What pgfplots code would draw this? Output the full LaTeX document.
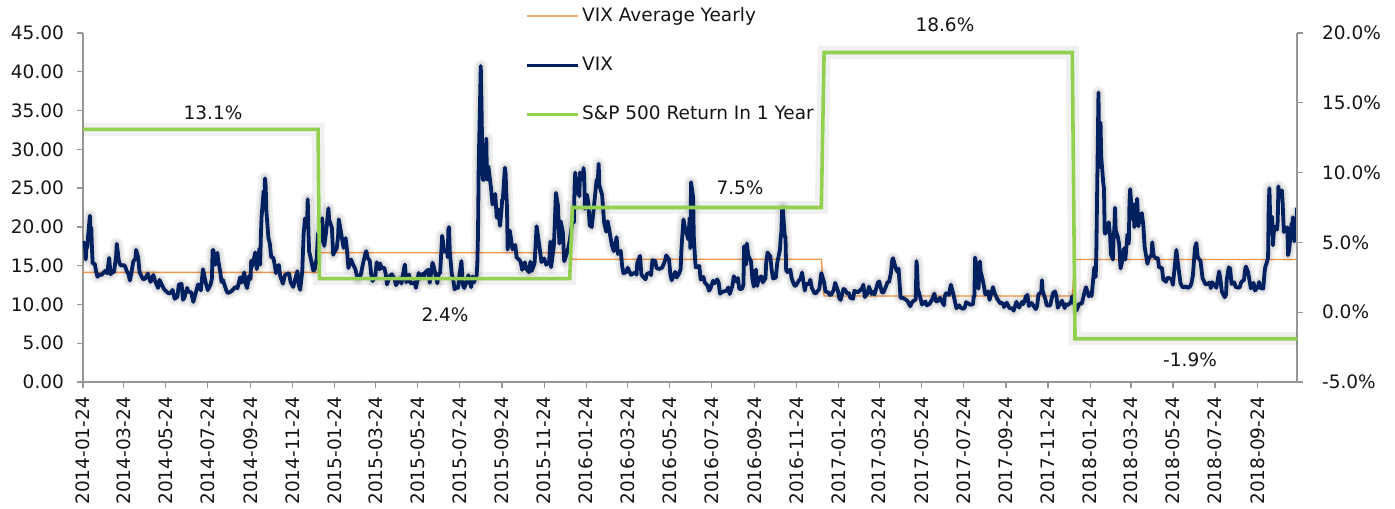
\documentclass[border=0pt]{standalone}
\usepackage{pgfplots}
\pgfplotsset{compat=1.18}
\usepackage{pgfplotstable}
\usepgfplotslibrary{dateplot}
\usepackage{fontspec}
\setmainfont{DejaVu Sans}
\definecolor{vixblue}{RGB}{0,32,96}
\definecolor{spgreen}{RGB}{146,208,80}
\definecolor{avgorange}{RGB}{247,150,70}
\definecolor{axgray}{RGB}{150,150,150}
\definecolor{txt}{RGB}{20,20,20}
\newcommand{\cf}{\fontsize{9.25}{11}\selectfont}

\pgfplotstableread{
date vix
2014-01-24 18.14
2014-01-27 17.42
2014-01-28 15.80
2014-01-29 17.35
2014-01-30 17.29
2014-01-31 18.41
2014-02-03 21.44
2014-02-04 19.11
2014-02-05 19.95
2014-02-06 17.23
2014-02-07 15.29
2014-02-10 15.26
2014-02-12 14.30
2014-02-14 13.57
2014-02-18 13.87
2014-02-20 13.79
2014-02-24 14.23
2014-02-26 14.35
2014-02-28 14.00
2014-03-03 16.00
2014-03-05 13.89
2014-03-07 14.11
2014-03-10 14.20
2014-03-13 16.22
2014-03-14 17.82
2014-03-17 15.64
2014-03-19 15.12
2014-03-21 15.00
2014-03-24 15.09
2014-03-26 14.93
2014-03-28 14.41
2014-03-31 13.88
2014-04-02 13.09
2014-04-04 13.96
2014-04-07 15.57
2014-04-10 15.89
2014-04-11 17.03
2014-04-14 16.11
2014-04-16 14.18
2014-04-21 13.25
2014-04-24 13.32
2014-04-28 13.97
2014-04-30 13.41
2014-05-02 12.91
2014-05-06 13.80
2014-05-09 12.92
2014-05-13 12.13
2014-05-15 13.17
2014-05-19 12.42
2014-05-22 11.91
2014-05-27 11.51
2014-05-30 11.40
2014-06-03 11.87
2014-06-06 10.73
2014-06-10 11.00
2014-06-12 12.56
2014-06-16 12.65
2014-06-18 10.61
2014-06-20 10.85
2014-06-24 12.13
2014-06-26 11.63
2014-06-30 11.57
2014-07-03 10.32
2014-07-08 11.98
2014-07-10 12.59
2014-07-14 11.82
2014-07-17 14.54
2014-07-21 12.81
2014-07-24 11.84
2014-07-28 12.56
2014-07-30 13.33
2014-07-31 16.95
2014-08-01 17.03
2014-08-04 15.12
2014-08-06 16.37
2014-08-07 16.66
2014-08-08 15.77
2014-08-11 14.23
2014-08-13 12.90
2014-08-15 13.15
2014-08-18 12.32
2014-08-20 11.78
2014-08-22 11.47
2014-08-26 11.63
2014-08-28 11.76
2014-09-02 12.25
2014-09-05 12.09
2014-09-09 13.50
2014-09-11 12.80
2014-09-15 14.12
2014-09-17 12.65
2014-09-19 12.11
2014-09-22 13.69
2014-09-24 13.27
2014-09-25 15.64
2014-09-26 14.85
2014-09-30 16.31
2014-10-01 16.71
2014-10-03 14.55
2014-10-07 17.20
2014-10-08 15.11
2014-10-09 18.76
2014-10-10 21.24
2014-10-13 24.64
2014-10-14 22.79
2014-10-15 26.25
2014-10-16 25.20
2014-10-17 21.99
2014-10-20 18.57
2014-10-22 17.87
2014-10-24 16.11
2014-10-27 16.04
2014-10-29 15.15
2014-10-31 14.03
2014-11-04 15.10
2014-11-06 13.67
2014-11-10 12.67
2014-11-13 13.79
2014-11-17 13.99
2014-11-19 13.96
2014-11-21 12.90
2014-11-25 12.25
2014-11-28 13.33
2014-12-01 14.29
2014-12-03 12.47
2014-12-05 11.89
2014-12-08 14.21
2014-12-10 19.00
2014-12-12 21.08
2014-12-15 20.42
2014-12-16 23.57
2014-12-17 19.44
2014-12-18 16.81
2014-12-19 16.49
2014-12-22 15.25
2014-12-24 14.37
2014-12-26 14.50
2014-12-29 15.92
2014-12-31 19.20
2015-01-02 17.79
2015-01-05 19.92
2015-01-06 21.12
2015-01-07 19.31
2015-01-09 17.55
2015-01-12 19.60
2015-01-13 20.56
2015-01-15 22.39
2015-01-16 20.95
2015-01-20 19.89
2015-01-22 16.40
2015-01-23 16.66
2015-01-27 17.22
2015-01-29 18.76
2015-01-30 20.97
2015-02-02 19.43
2015-02-04 18.33
2015-02-06 17.29
2015-02-09 18.55
2015-02-11 16.96
2015-02-13 14.69
2015-02-17 15.80
2015-02-19 15.29
2015-02-23 14.56
2015-02-25 13.84
2015-02-27 13.34
2015-03-03 13.86
2015-03-06 15.20
2015-03-10 16.69
2015-03-11 16.87
2015-03-13 16.00
2015-03-16 15.61
2015-03-18 13.97
2015-03-20 13.02
2015-03-24 13.62
2015-03-26 15.44
2015-03-30 14.51
2015-03-31 15.29
2015-04-02 14.67
2015-04-06 14.74
2015-04-08 13.98
2015-04-10 12.58
2015-04-14 13.67
2015-04-17 13.89
2015-04-21 13.25
2015-04-23 12.48
2015-04-27 13.12
2015-04-29 13.39
2015-05-01 12.70
2015-05-05 14.80
2015-05-06 15.15
2015-05-08 12.86
2015-05-12 13.86
2015-05-14 12.74
2015-05-18 12.73
2015-05-20 12.88
2015-05-22 12.13
2015-05-26 14.06
2015-05-28 13.31
2015-06-01 13.97
2015-06-03 13.66
2015-06-05 14.21
2015-06-09 14.47
2015-06-11 12.80
2015-06-15 15.39
2015-06-17 14.81
2015-06-19 13.96
2015-06-22 12.74
2015-06-24 14.01
2015-06-26 14.02
2015-06-29 18.85
2015-06-30 18.23
2015-07-02 16.79
2015-07-06 17.01
2015-07-07 16.09
2015-07-08 19.66
2015-07-09 19.97
2015-07-10 16.83
2015-07-13 13.90
2015-07-15 13.23
2015-07-17 11.95
2015-07-20 12.25
2015-07-22 12.12
2015-07-24 13.74
2015-07-27 15.60
2015-07-29 12.50
2015-07-31 12.12
2015-08-04 13.00
2015-08-06 13.77
2015-08-10 12.23
2015-08-12 13.61
2015-08-14 12.83
2015-08-18 13.79
2015-08-19 15.25
2015-08-20 19.14
2015-08-21 28.03
2015-08-24 40.74
2015-08-25 36.02
2015-08-26 30.32
2015-08-27 26.10
2015-08-28 26.05
2015-08-31 28.43
2015-09-01 31.40
2015-09-02 26.09
2015-09-04 27.80
2015-09-08 24.90
2015-09-10 22.87
2015-09-11 23.20
2015-09-14 24.25
2015-09-16 21.35
2015-09-17 21.14
2015-09-18 22.28
2015-09-21 20.14
2015-09-23 22.13
2015-09-24 23.47
2015-09-25 23.62
2015-09-28 27.63
2015-09-29 26.83
2015-09-30 24.50
2015-10-01 22.55
2015-10-02 17.08
2015-10-05 19.54
2015-10-07 18.40
2015-10-09 17.08
2015-10-13 17.67
2015-10-15 16.05
2015-10-19 15.75
2015-10-21 15.43
2015-10-23 14.46
2015-10-27 15.43
2015-10-29 14.61
2015-11-02 14.15
2015-11-04 15.51
2015-11-06 14.33
2015-11-10 15.29
2015-11-12 18.37
2015-11-13 20.08
2015-11-16 18.16
2015-11-18 16.85
2015-11-20 15.47
2015-11-24 15.93
2015-11-27 15.12
2015-12-01 15.34
2015-12-03 18.11
2015-12-04 14.81
2015-12-08 17.60
2015-12-09 19.61
2015-12-11 24.39
2015-12-14 22.73
2015-12-16 17.86
2015-12-18 20.70
2015-12-21 19.34
2015-12-23 15.57
2015-12-28 16.91
2015-12-31 18.21
2016-01-04 20.70
2016-01-06 20.59
2016-01-07 24.99
2016-01-08 27.01
2016-01-11 24.30
2016-01-13 25.22
2016-01-14 23.95
2016-01-15 27.02
2016-01-19 26.05
2016-01-20 27.59
2016-01-21 26.69
2016-01-22 22.34
2016-01-25 24.15
2016-01-27 23.11
2016-01-29 20.20
2016-02-01 19.98
2016-02-03 21.65
2016-02-05 23.38
2016-02-08 26.00
2016-02-10 26.29
2016-02-11 28.14
2016-02-12 25.40
2016-02-16 24.11
2016-02-18 21.64
2016-02-19 20.53
2016-02-22 19.38
2016-02-24 20.72
2016-02-26 19.81
2016-03-01 17.70
2016-03-03 17.14
2016-03-04 16.86
2016-03-08 18.67
2016-03-10 16.50
2016-03-14 16.92
2016-03-16 14.99
2016-03-18 14.02
2016-03-22 14.17
2016-03-24 14.74
2016-03-29 13.82
2016-03-31 13.95
2016-04-04 14.12
2016-04-06 13.84
2016-04-07 15.36
2016-04-11 16.26
2016-04-13 13.84
2016-04-15 13.62
2016-04-19 13.24
2016-04-21 13.95
2016-04-25 14.08
2016-04-27 13.77
2016-04-29 15.70
2016-05-03 15.60
2016-05-05 14.67
2016-05-09 14.57
2016-05-11 14.69
2016-05-13 14.72
2016-05-17 15.57
2016-05-19 16.33
2016-05-23 15.82
2016-05-25 13.90
2016-05-27 13.12
2016-06-01 14.20
2016-06-03 13.47
2016-06-07 14.05
2016-06-09 14.64
2016-06-10 17.03
2016-06-13 20.97
2016-06-14 20.50
2016-06-16 19.37
2016-06-17 19.41
2016-06-20 18.37
2016-06-22 21.17
2016-06-23 17.25
2016-06-24 25.76
2016-06-27 23.85
2016-06-28 18.75
2016-06-30 15.63
2016-07-01 14.77
2016-07-06 14.96
2016-07-08 13.20
2016-07-12 13.55
2016-07-14 12.82
2016-07-18 12.44
2016-07-20 11.77
2016-07-22 12.02
2016-07-26 13.05
2016-07-28 12.72
2016-08-01 13.22
2016-08-03 12.86
2016-08-05 11.39
2016-08-09 11.66
2016-08-11 11.68
2016-08-15 11.81
2016-08-17 12.19
2016-08-19 11.34
2016-08-23 12.38
2016-08-25 13.63
2016-08-29 12.94
2016-08-31 13.42
2016-09-02 11.98
2016-09-06 12.02
2016-09-08 12.51
2016-09-09 17.50
2016-09-12 15.16
2016-09-13 17.85
2016-09-15 16.30
2016-09-19 15.53
2016-09-21 13.30
2016-09-23 12.29
2016-09-26 14.50
2016-09-28 12.39
2016-09-30 13.29
2016-10-04 13.63
2016-10-06 12.84
2016-10-10 13.38
2016-10-11 15.36
2016-10-13 16.69
2016-10-17 16.21
2016-10-19 14.41
2016-10-21 13.34
2016-10-25 13.46
2016-10-27 15.36
2016-10-31 17.06
2016-11-01 18.56
2016-11-02 19.32
2016-11-03 22.08
2016-11-04 22.51
2016-11-07 18.71
2016-11-08 18.74
2016-11-09 14.38
2016-11-11 14.17
2016-11-15 14.48
2016-11-17 13.35
2016-11-21 12.42
2016-11-23 12.43
2016-11-28 13.15
2016-11-30 13.33
2016-12-02 14.12
2016-12-06 11.79
2016-12-08 12.64
2016-12-12 12.64
2016-12-14 13.19
2016-12-16 12.20
2016-12-20 11.45
2016-12-22 11.43
2016-12-27 11.99
2016-12-29 13.37
2016-12-30 14.04
2017-01-03 12.85
2017-01-05 11.67
2017-01-09 11.56
2017-01-11 11.26
2017-01-13 11.23
2017-01-17 11.87
2017-01-19 12.78
2017-01-23 11.77
2017-01-25 10.81
2017-01-27 10.58
2017-01-31 11.99
2017-02-02 11.93
2017-02-06 11.37
2017-02-08 11.45
2017-02-10 10.85
2017-02-14 10.74
2017-02-16 11.76
2017-02-21 11.57
2017-02-23 11.71
2017-02-27 12.09
2017-03-01 12.54
2017-03-03 10.96
2017-03-07 11.45
2017-03-09 12.30
2017-03-13 11.35
2017-03-15 11.63
2017-03-17 11.28
2017-03-21 12.47
2017-03-22 12.81
2017-03-24 12.96
2017-03-28 11.53
2017-03-30 11.54
2017-04-03 12.38
2017-04-05 12.89
2017-04-07 12.87
2017-04-10 14.05
2017-04-11 15.07
2017-04-12 15.77
2017-04-13 15.96
2017-04-17 14.66
2017-04-18 14.42
2017-04-20 14.15
2017-04-21 14.63
2017-04-24 10.84
2017-04-26 10.85
2017-04-28 10.82
2017-05-02 10.59
2017-05-04 10.46
2017-05-08 9.77
2017-05-10 10.21
2017-05-12 10.40
2017-05-16 10.65
2017-05-17 15.59
2017-05-18 14.66
2017-05-19 12.04
2017-05-23 10.72
2017-05-25 9.99
2017-05-30 10.38
2017-06-01 9.89
2017-06-05 10.07
2017-06-07 10.39
2017-06-09 10.70
2017-06-12 11.40
2017-06-14 10.42
2017-06-16 10.38
2017-06-20 10.86
2017-06-22 10.48
2017-06-26 9.90
2017-06-27 11.06
2017-06-29 11.44
2017-07-03 11.22
2017-07-06 12.54
2017-07-10 11.11
2017-07-12 10.30
2017-07-14 9.51
2017-07-18 9.89
2017-07-20 9.58
2017-07-24 9.43
2017-07-26 9.60
2017-07-28 10.29
2017-08-01 10.09
2017-08-03 9.95
2017-08-07 10.03
2017-08-08 10.96
2017-08-09 11.11
2017-08-10 16.04
2017-08-11 15.51
2017-08-14 12.33
2017-08-15 12.04
2017-08-17 15.55
2017-08-18 14.26
2017-08-21 13.19
2017-08-23 12.25
2017-08-25 11.28
2017-08-29 11.70
2017-08-31 10.59
2017-09-05 12.23
2017-09-07 11.55
2017-09-11 10.73
2017-09-13 10.50
2017-09-15 10.17
2017-09-19 10.18
2017-09-21 9.67
2017-09-25 10.21
2017-09-27 9.87
2017-09-29 9.51
2017-10-03 9.51
2017-10-05 9.19
2017-10-09 10.33
2017-10-11 9.85
2017-10-13 9.61
2017-10-17 10.31
2017-10-19 10.05
2017-10-23 11.07
2017-10-25 11.23
2017-10-27 9.80
2017-10-31 10.18
2017-11-02 9.93
2017-11-06 9.40
2017-11-08 9.78
2017-11-10 11.29
2017-11-14 11.59
2017-11-15 13.13
2017-11-16 11.76
2017-11-20 10.65
2017-11-22 9.88
2017-11-27 9.87
2017-11-29 10.70
2017-12-01 11.43
2017-12-04 11.68
2017-12-06 11.02
2017-12-08 9.58
2017-12-12 10.18
2017-12-14 10.49
2017-12-18 9.53
2017-12-20 10.03
2017-12-22 9.90
2017-12-27 10.25
2017-12-29 11.04
2018-01-02 9.77
2018-01-04 9.22
2018-01-08 10.08
2018-01-10 10.08
2018-01-12 10.16
2018-01-16 11.66
2018-01-18 12.22
2018-01-22 11.03
2018-01-24 11.47
2018-01-26 11.08
2018-01-29 13.84
2018-01-30 14.79
2018-02-01 13.54
2018-02-02 17.31
2018-02-05 37.32
2018-02-06 29.98
2018-02-07 27.73
2018-02-08 33.46
2018-02-09 29.06
2018-02-12 25.61
2018-02-13 24.97
2018-02-14 19.26
2018-02-15 19.13
2018-02-16 19.46
2018-02-20 20.60
2018-02-22 18.72
2018-02-23 16.49
2018-02-26 15.80
2018-02-27 18.59
2018-02-28 19.85
2018-03-01 22.47
2018-03-02 19.59
2018-03-05 18.73
2018-03-07 17.76
2018-03-09 14.64
2018-03-12 15.78
2018-03-14 17.23
2018-03-16 15.80
2018-03-19 19.02
2018-03-21 17.86
2018-03-22 23.34
2018-03-23 24.87
2018-03-26 21.03
2018-03-27 22.50
2018-03-28 22.87
2018-03-29 19.97
2018-04-02 23.62
2018-04-04 20.06
2018-04-06 21.49
2018-04-09 21.77
2018-04-11 20.24
2018-04-13 17.41
2018-04-17 15.25
2018-04-19 15.96
2018-04-23 16.34
2018-04-24 18.02
2018-04-26 16.24
2018-04-30 15.93
2018-05-02 15.97
2018-05-04 14.77
2018-05-08 14.71
2018-05-10 13.23
2018-05-14 12.93
2018-05-16 13.42
2018-05-18 13.42
2018-05-22 13.22
2018-05-24 12.53
2018-05-29 17.02
2018-05-31 15.43
2018-06-04 12.74
2018-06-06 12.40
2018-06-08 12.18
2018-06-12 12.35
2018-06-14 12.12
2018-06-18 12.31
2018-06-20 12.79
2018-06-22 13.77
2018-06-25 17.33
2018-06-27 17.91
2018-06-29 16.09
2018-07-03 15.60
2018-07-06 13.37
2018-07-10 12.64
2018-07-12 12.58
2018-07-16 12.83
2018-07-18 12.10
2018-07-20 12.86
2018-07-24 12.41
2018-07-26 12.14
2018-07-30 14.26
2018-08-01 13.15
2018-08-03 11.64
2018-08-07 10.93
2018-08-09 11.27
2018-08-10 13.16
2018-08-13 14.78
2018-08-15 14.64
2018-08-17 12.64
2018-08-21 12.86
2018-08-23 12.25
2018-08-27 12.16
2018-08-29 12.25
2018-08-31 12.86
2018-09-04 13.16
2018-09-06 14.65
2018-09-07 14.88
2018-09-10 14.16
2018-09-12 13.14
2018-09-14 12.07
2018-09-18 12.79
2018-09-20 11.80
2018-09-24 12.20
2018-09-26 12.89
2018-09-28 12.12
2018-10-02 12.05
2018-10-04 14.22
2018-10-05 14.82
2018-10-08 15.69
2018-10-09 15.95
2018-10-10 22.96
2018-10-11 24.98
2018-10-12 21.31
2018-10-15 21.30
2018-10-16 17.62
2018-10-18 20.06
2018-10-19 19.89
2018-10-22 19.64
2018-10-23 20.71
2018-10-24 25.23
2018-10-25 24.22
2018-10-26 24.16
2018-10-29 24.70
2018-10-30 23.35
2018-10-31 21.23
2018-11-01 19.34
2018-11-02 19.51
2018-11-05 19.96
2018-11-06 19.91
2018-11-07 16.36
2018-11-08 16.72
2018-11-09 17.36
2018-11-12 20.45
2018-11-13 20.02
2018-11-14 21.25
2018-11-15 19.98
2018-11-16 18.14
2018-11-19 20.10
2018-11-20 22.48
}\vixdata

\pgfplotstableread{
date avg
2014-01-24 14.14
2014-12-31 14.14
2015-01-02 16.67
2015-12-31 16.67
2016-01-04 15.83
2016-12-30 15.83
2017-01-03 11.09
2017-12-29 11.09
2018-01-02 15.80
2018-11-20 15.80
}\avgdata

\pgfplotstableread{
date ret
2014-01-24 13.1
2014-12-31 13.1
2015-01-02 2.4
2015-12-31 2.4
2016-01-04 7.5
2016-12-30 7.5
2017-01-03 18.6
2017-12-29 18.6
2018-01-02 -1.9
2018-11-20 -1.9
}\retdata

\pgfplotsset{
  common/.style={
    scale only axis, width=607pt, height=174.5pt,
    at={(0pt,0pt)}, anchor=south west,
    date coordinates in=x, date ZERO=2014-01-24,
    xmin=2014-01-24, xmax=2018-11-20,
    /pgf/number format/assume math mode=true,
    tick label style={font=\cf, text=txt},
    axis line style={axgray, line width=0.7pt},
    major tick style={axgray, line width=0.7pt},
    tick align=outside, major tick length=3pt,
  }
}

\begin{document}
\begin{tikzpicture}
\path[use as bounding box] (-41.5pt,-63pt) rectangle (656pt,191pt);
\begin{axis}[common,
  axis x line*=bottom, axis y line*=left,
  ymin=0, ymax=45, ytick={0,5,...,45},
  yticklabel={\pgfmathprintnumber[fixed,fixed zerofill,precision=2]{\tick}},
  yticklabel style={xshift=-3pt},
  xtick={2014-01-24,2014-03-24,2014-05-24,2014-07-24,2014-09-24,2014-11-24,
         2015-01-24,2015-03-24,2015-05-24,2015-07-24,2015-09-24,2015-11-24,
         2016-01-24,2016-03-24,2016-05-24,2016-07-24,2016-09-24,2016-11-24,
         2017-01-24,2017-03-24,2017-05-24,2017-07-24,2017-09-24,2017-11-24,
         2018-01-24,2018-03-24,2018-05-24,2018-07-24,2018-09-24},
  xticklabel={\year-\month-\day},
  xticklabel style={rotate=90, anchor=east, xshift=-1pt},
]
\addplot[avgorange, line width=0.7pt] table[x=date,y=avg] {\avgdata};
\addplot[black, opacity=0.06, line width=6.5pt, line join=round] table[x=date,y=vix] {\vixdata};
\addplot[black, opacity=0.08, line width=4pt, line join=round] table[x=date,y=vix] {\vixdata};
\addplot[vixblue, line width=1.9pt, line join=round] table[x=date,y=vix] {\vixdata};
\end{axis}
\begin{axis}[common,
  axis x line=none, axis y line*=right,
  ymin=-5, ymax=20, ytick={-5,0,...,20},
  yticklabel={\pgfmathprintnumber[fixed,fixed zerofill,precision=1]{\tick}\%},
  yticklabel style={xshift=6pt},
  clip=false,
  legend style={at={(0.3637,1.081)}, anchor=north west, draw=none, fill=none,
    inner sep=0pt, font=\cf, text=txt, row sep=13.75pt, nodes={inner sep=1.25pt}},
  legend cell align=left,
  legend image code/.code={\draw[#1] (0pt,0pt) -- (25.5pt,0pt);},
]
\addlegendimage{avgorange!80, line width=0.9pt}
\addlegendentry{VIX Average Yearly}
\addlegendimage{vixblue, line width=1.9pt}
\addlegendentry{VIX}
\addplot[black, opacity=0.06, line width=6.5pt, forget plot] table[x=date,y=ret] {\retdata};
\addplot[spgreen, line width=1.8pt] table[x=date,y=ret] {\retdata};
\addlegendentry{S\&P 500 Return In 1 Year}
\node[font=\cf, text=txt] at (rel axis cs:0.1071,0.7708) {13.1\%};
\node[font=\cf, text=txt] at (rel axis cs:0.2982,0.192) {2.4\%};
\node[font=\cf, text=txt] at (rel axis cs:0.5412,0.5559) {7.5\%};
\node[font=\cf, text=txt] at (rel axis cs:0.7100,1.0229) {18.6\%};
\node[font=\cf, text=txt] at (rel axis cs:0.9119,0.063) {-1.9\%};
\end{axis}
\end{tikzpicture}
\end{document}
